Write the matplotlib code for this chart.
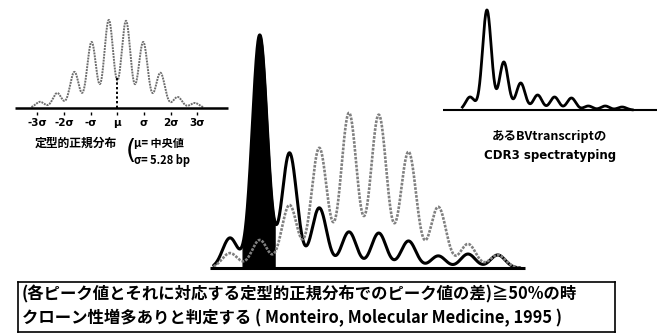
import numpy as np
import matplotlib
matplotlib.use("Agg")
import matplotlib.pyplot as plt

plt.rcParams['font.family'] = ['Noto Sans CJK JP', 'DejaVu Sans']

W, H = 659, 335

# main panel: peak heights (clonal peak = 100)
main_pos = np.arange(10)
main_normal = [6.4, 12.0, 27.0, 51.5, 66.5, 65.7, 49.8, 26.2, 10.3, 5.6]
main_sample = [12.9, 100, 49.4, 25.8, 15.5, 15.0, 11.6, 5.2, 6.0, 5.6]
clonal_idx = 1

# left inset: normal distribution reference
norm_pos = np.arange(10)
norm_heights = [7, 17, 41, 75, 100, 99, 75, 40, 12.5, 5.7]
sigma_ticks = [-0.15, 1.4, 2.95, 4.5, 6.05, 7.6, 9.15]
sigma_labels = ['-3σ', '-2σ', '-σ', 'μ', 'σ', '2σ', '3σ']
mu_line_height = 34

# right inset: one BV transcript
bv_pos = np.arange(10)
bv_heights = [13, 100, 48, 27, 15, 13, 12, 4, 4, 3]

box_lines = ['(各ピーク値とそれに対応する定型的正規分布でのピーク値の差)≧50%の時',
             'クローン性増多ありと判定する ( Monteiro, Molecular Medicine, 1995 )']


def trace(x, pos, heights, s):
    y = np.zeros_like(x)
    for p, h in zip(pos, heights):
        y += h * np.exp(-(x - p) ** 2 / (2 * s * s))
    return y


def place(fig, x0, x1, ytop, ybot):
    ax = fig.add_axes([x0 / W, 1 - ybot / H, (x1 - x0) / W, (ybot - ytop) / H])
    ax.patch.set_visible(False)
    for sp in ax.spines.values():
        sp.set_visible(False)
    return ax


fig = plt.figure(figsize=(W / 100, H / 100), dpi=100)

# ---- main chart
ax = place(fig, 200.25, 533.45, 30.3, 275)
ax.set_xlim(-1, 10.2)
ax.set_ylim(-3, 102)
ax.set_xticks([])
ax.set_yticks([])
x = np.linspace(-0.55, 9.75, 1500)
yn = trace(x, main_pos, main_normal, 0.265)
ys = trace(x, main_pos, main_sample, 0.25)
m = (x > clonal_idx - 0.58) & (x < clonal_idx + 0.5)
ax.fill_between(x[m], 0, ys[m], color='black', zorder=2)
ax.plot(x, ys, color='black', lw=2.2, zorder=3, solid_capstyle='round')
ax.plot(x, yn, color='#808080', lw=1.9, ls=(0, (1, 0.5)), zorder=4)
ax.plot([-0.67, 9.92], [0, 0], color='black', lw=2.2, zorder=5, solid_capstyle='butt')

# ---- left inset
axl = place(fig, 14.2, 229.2, 15.6, 111.5)
axl.set_xlim(-1.5, 11)
axl.set_ylim(-4, 105)
axl.set_yticks([])
xl = np.linspace(-0.5, 9.5, 800)
axl.plot(xl, trace(xl, norm_pos, norm_heights, 0.26), color='#6e6e6e', lw=1.4,
         ls=(0, (1, 0.5)))
axl.plot([sigma_ticks[3]] * 2, [0, mu_line_height], color='black', lw=1.4, ls=(0, (1.2, 1.2)))
axl.plot([-1.45, 10.93], [0, 0], color='black', lw=1.8, solid_capstyle='butt')
axl.set_xticks(sigma_ticks)
axl.set_xticklabels(sigma_labels, fontsize=7.5, fontweight='bold', family='DejaVu Sans')
axl.tick_params(axis='x', length=2, width=1, pad=3)

fig.text(35 / W, 1 - 143 / H, '定型的正規分布', fontsize=8.5, fontweight='bold', va='center')
fig.text(126 / W, 1 - 151 / H, '(', fontsize=19, va='center', family='DejaVu Sans')
fig.text(134 / W, 1 - 143 / H, 'μ= 中央値', fontsize=8, fontweight='bold', va='center')
fig.text(134 / W, 1 - 160 / H, 'σ= 5.28 bp', fontsize=8, fontweight='bold', va='center')

# ---- right inset
axr = place(fig, 441.3, 659.3, 6, 114)
axr.set_xlim(-1.7, 11.2)
axr.set_ylim(-4, 104)
axr.set_xticks([])
axr.set_yticks([])
xr = np.linspace(-0.45, 9.6, 800)
axr.plot(xr, trace(xr, bv_pos, bv_heights, 0.26), color='black', lw=2.0)
axr.plot([-1.6, 11.07], [0, 0], color='black', lw=1.5, solid_capstyle='butt')
fig.text(550 / W, 1 - 136 / H, 'あるBVtranscriptの', fontsize=9, fontweight='bold',
         ha='center', va='center')
fig.text(550 / W, 1 - 156 / H, 'CDR3 spectratyping', fontsize=8.5, fontweight='bold',
         ha='center', va='center', family='DejaVu Sans')

# ---- note box
axb = fig.add_axes([18 / W, 1 - 332 / H, (615 - 18) / W, (332 - 282) / H])
axb.set_xticks([])
axb.set_yticks([])
for sp in axb.spines.values():
    sp.set_linewidth(1.2)
axb.text(0.006, 0.76, box_lines[0], fontsize=11.8, fontweight='bold', va='center',
         transform=axb.transAxes)
axb.text(0.006, 0.27, box_lines[1], fontsize=11.8, fontweight='bold', va='center',
         transform=axb.transAxes)

fig.savefig('out.png', dpi=100)
